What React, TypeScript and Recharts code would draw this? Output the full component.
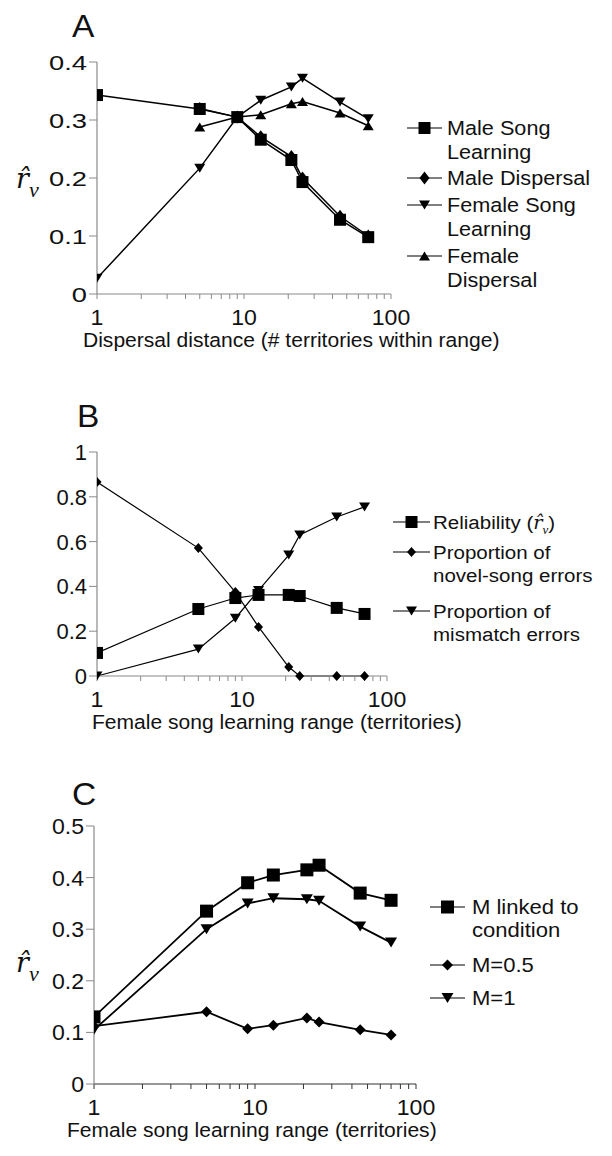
import React from 'react';
import { LineChart, Line, XAxis, YAxis, Legend } from 'recharts';

// ---------- DATA ----------
const xFull = [1, 5, 9, 13, 21, 25, 45, 70];
const xFrom5 = [5, 9, 13, 21, 25, 45, 70];

// Panel A
const aMaleSongLearning = [0.343, 0.319, 0.305, 0.266, 0.231, 0.193, 0.128, 0.098];
const aMaleDispersal = [0.32, 0.305, 0.271, 0.237, 0.2, 0.134, 0.1];
const aFemaleSongLearning = [0.027, 0.217, 0.305, 0.334, 0.357, 0.372, 0.331, 0.302];
const aFemaleDispersal = [0.288, 0.305, 0.309, 0.328, 0.332, 0.312, 0.29];

// Panel B
const bReliability = [0.103, 0.299, 0.348, 0.362, 0.362, 0.357, 0.304, 0.277];
const bNovelSongErrors = [0.866, 0.571, 0.375, 0.219, 0.04, 0, 0, 0];
const bMismatchErrors = [0, 0.12, 0.258, 0.382, 0.54, 0.63, 0.71, 0.755];

// Panel C
const cLinkedToCondition = [0.13, 0.335, 0.39, 0.405, 0.415, 0.424, 0.37, 0.356];
const cM05 = [0.112, 0.14, 0.107, 0.114, 0.128, 0.12, 0.105, 0.095];
const cM1 = [0.105, 0.3, 0.35, 0.36, 0.358, 0.355, 0.305, 0.274];

// Ticks
const xTicksAll = [1, 2, 3, 4, 5, 6, 7, 8, 9, 10, 20, 30, 40, 50, 60, 70, 80, 90, 100];
const xTickLabels = [1, 10, 100];
const aYTicks = [0, 0.1, 0.2, 0.3, 0.4];
const bYTicks = [0, 0.2, 0.4, 0.6, 0.8, 1];
const cYTicks = [0, 0.1, 0.2, 0.3, 0.4, 0.5];

// Texts
const aXTitle = 'Dispersal distance (# territories within range)';
const bXTitle = 'Female song learning range (territories)';
const cXTitle = 'Female song learning range (territories)';
const aLegendLines = [['Male Song', 'Learning'], ['Male Dispersal'], ['Female Song', 'Learning'], ['Female', 'Dispersal']];
const bLegendLines = [['Reliability ('], ['Proportion of', 'novel-song errors'], ['Proportion of', 'mismatch errors']];
const cLegendLines = [['M linked to', 'condition'], ['M=0.5'], ['M=1']];

// ---------- helpers ----------
const SANS = "'Liberation Sans', Arial, Helvetica, sans-serif";
const SERIF = "'DejaVu Serif', 'Liberation Serif', 'Times New Roman', serif";
const TIMES = "'Liberation Serif', 'Times New Roman', serif";

type Shape = 'square' | 'diamond' | 'tdown' | 'tup';
type Sizes = { square: number; diamondW: number; diamondH: number; triW: number; triH: number };

const pts = (xs: number[], ys: number[]) => xs.map((x, i) => ({ x, y: ys[i] }));

function markerEl(shape: Shape, cx: number, cy: number, s: Sizes, key?: any) {
  if (shape === 'square') {
    return <rect key={key} x={cx - s.square / 2} y={cy - s.square / 2} width={s.square} height={s.square} fill="#000" />;
  }
  if (shape === 'diamond') {
    const w = s.diamondW / 2, h = s.diamondH / 2;
    return <polygon key={key} points={`${cx},${cy - h} ${cx + w},${cy} ${cx},${cy + h} ${cx - w},${cy}`} fill="#000" />;
  }
  const w = s.triW / 2, h = s.triH / 2;
  if (shape === 'tdown') {
    return <polygon key={key} points={`${cx - w},${cy - h} ${cx + w},${cy - h} ${cx},${cy + h}`} fill="#000" />;
  }
  return <polygon key={key} points={`${cx - w},${cy + h} ${cx + w},${cy + h} ${cx},${cy - h}`} fill="#000" />;
}

const makeDot = (shape: Shape, s: Sizes) => (p: any) => {
  const { cx, cy, index } = p;
  if (cx == null || cy == null) return <g key={`d${index}`} />;
  return markerEl(shape, cx, cy, s, `d${index}`);
};

const fmtY = (v: number) => String(v);

const makeYTick = (fs: number, sx: number) => (p: any) => (
  <text
    transform={`translate(${p.x},${p.y}) scale(${sx},1)`}
    x={0}
    y={0}
    dy="0.36em"
    textAnchor="end"
    fontSize={fs}
    fontFamily={SANS}
    fill="#111"
  >
    {fmtY(p.payload.value)}
  </text>
);

const makeXTick = (fs: number, sx: number) => (p: any) =>
  xTickLabels.includes(p.payload.value) ? (
    <text
      transform={`translate(${p.x},${p.y + 26}) scale(${sx},1)`}
      x={0}
      y={0}
      textAnchor="middle"
      fontSize={fs}
      fontFamily={SANS}
      fill="#111"
    >
      {p.payload.value}
    </text>
  ) : (
    <g />
  );

type SeriesDef = { name: string; xs: number[]; ys: number[]; shape: Shape };

type PanelCfg = {
  top: number;
  height: number;
  margin: { top: number; right: number; bottom: number; left: number };
  yTicks: number[];
  yDomain: [number, number];
  series: SeriesDef[];
  legendLines: string[][];
  legendY: number[];
  legendGap: number;
  legendLineX: [number, number];
  legendTextX: number;
  legendFs: number;
  legendSx: number;
  sizes: Sizes;
  strokeW: number;
  yTickFs: number;
  yTickSx: number;
  xTickFs: number;
  xTickSx: number;
  xAxisColor: string;
  reliabilityItem?: boolean;
};

function PanelLegend({ cfg }: { cfg: PanelCfg }) {
  const mx = (cfg.legendLineX[0] + cfg.legendLineX[1]) / 2;
  const tx = cfg.legendTextX;
  return (
    <svg width={612} height={cfg.height} style={{ position: 'absolute', left: 0, top: 0, overflow: 'visible' }}>
      {cfg.series.map((s, i) => {
        const y = cfg.legendY[i] - cfg.top;
        const lines = cfg.legendLines[i];
        return (
          <g key={s.name}>
            <line x1={cfg.legendLineX[0]} x2={cfg.legendLineX[1]} y1={y} y2={y} stroke="#000" strokeWidth={1.2} />
            {markerEl(s.shape, mx, y, cfg.sizes)}
            {lines.map((t, k) => (
              <text
                key={k}
                transform={`translate(${tx},${y + 7 + k * cfg.legendGap}) scale(${cfg.legendSx},1)`}
                x={0}
                y={0}
                fontSize={cfg.legendFs}
                fontFamily={SANS}
                fill="#111"
              >
                {t}
                {cfg.reliabilityItem && i === 0 ? (
                  <>
                    <tspan fontFamily={SERIF} fontStyle="italic" fontSize={cfg.legendFs - 1}>{'r\u0302'}</tspan>
                    <tspan fontFamily={TIMES} fontStyle="italic" fontSize={cfg.legendFs - 7} dy={5}>v</tspan>
                    <tspan dy={-5}>)</tspan>
                  </>
                ) : null}
              </text>
            ))}
          </g>
        );
      })}
    </svg>
  );
}

function Panel({ cfg }: { cfg: PanelCfg }) {
  const yAxisW = 60;
  const xAxisH = 40;
  return (
    <div style={{ position: 'absolute', left: 0, top: cfg.top, width: 612, height: cfg.height }}>
      <LineChart
        width={612}
        height={cfg.height}
        margin={{ top: cfg.margin.top, right: cfg.margin.right, bottom: cfg.margin.bottom, left: cfg.margin.left - yAxisW }}
      >
        <XAxis
          dataKey="x"
          type="number"
          scale="log"
          domain={[1, 100]}
          ticks={xTicksAll}
          interval={0}
          allowDataOverflow
          height={xAxisH}
          tickSize={5}
          tickMargin={0}
          axisLine={{ stroke: cfg.xAxisColor, strokeWidth: 1.2 }}
          tickLine={{ stroke: cfg.xAxisColor, strokeWidth: 1 }}
          tick={makeXTick(cfg.xTickFs, cfg.xTickSx)}
        />
        <YAxis
          type="number"
          domain={cfg.yDomain}
          ticks={cfg.yTicks}
          interval={0}
          width={yAxisW}
          tickSize={8}
          tickMargin={2}
          axisLine={{ stroke: '#8a8a8a', strokeWidth: 1.2 }}
          tickLine={{ stroke: '#8a8a8a', strokeWidth: 1 }}
          tick={makeYTick(cfg.yTickFs, cfg.yTickSx)}
        />
        <Legend
          layout="horizontal"
          verticalAlign="middle"
          align="center"
          wrapperStyle={{ position: 'absolute', left: 0, top: 0, width: 612, height: cfg.height, pointerEvents: 'none' }}
          content={() => <PanelLegend cfg={cfg} />}
        />
        {cfg.series.map((s) => (
          <Line
            key={s.name}
            name={s.name}
            data={pts(s.xs, s.ys)}
            dataKey="y"
            stroke="#000"
            strokeWidth={cfg.strokeW}
            dot={makeDot(s.shape, cfg.sizes)}
            activeDot={false}
            isAnimationActive={false}
          />
        ))}
      </LineChart>
    </div>
  );
}

// ---------- layout ----------
const panelA: PanelCfg = {
  top: 0,
  height: 370,
  margin: { top: 62, right: 612 - 391, bottom: 370 - 294 - 40, left: 97 },
  yTicks: aYTicks,
  yDomain: [0, 0.4],
  series: [
    { name: 'Male Song Learning', xs: xFull, ys: aMaleSongLearning, shape: 'square' },
    { name: 'Male Dispersal', xs: xFrom5, ys: aMaleDispersal, shape: 'diamond' },
    { name: 'Female Song Learning', xs: xFull, ys: aFemaleSongLearning, shape: 'tdown' },
    { name: 'Female Dispersal', xs: xFrom5, ys: aFemaleDispersal, shape: 'tup' },
  ],
  legendLines: aLegendLines,
  legendY: [128, 178, 205, 256],
  legendGap: 24,
  legendLineX: [407, 442],
  legendTextX: 447,
  legendFs: 19.5,
  legendSx: 1.11,
  sizes: { square: 12, diamondW: 10, diamondH: 13, triW: 11, triH: 9 },
  strokeW: 1.5,
  yTickFs: 21,
  yTickSx: 1.3,
  xTickFs: 22,
  xTickSx: 1.05,
  xAxisColor: '#8a8a8a',
};

const panelB: PanelCfg = {
  top: 380,
  height: 380,
  margin: { top: 452 - 380, right: 612 - 387, bottom: 380 - 296 - 40, left: 97 },
  yTicks: bYTicks,
  yDomain: [0, 1],
  series: [
    { name: 'Reliability', xs: xFull, ys: bReliability, shape: 'square' },
    { name: 'Proportion of novel-song errors', xs: xFull, ys: bNovelSongErrors, shape: 'diamond' },
    { name: 'Proportion of mismatch errors', xs: xFull, ys: bMismatchErrors, shape: 'tdown' },
  ],
  legendLines: bLegendLines,
  legendY: [522, 552, 611],
  legendGap: 23,
  legendLineX: [393, 430],
  legendTextX: 433,
  legendFs: 19,
  legendSx: 1.08,
  sizes: { square: 12, diamondW: 9, diamondH: 10, triW: 11, triH: 9 },
  strokeW: 1.2,
  yTickFs: 22,
  yTickSx: 1.0,
  xTickFs: 22,
  xTickSx: 1.05,
  xAxisColor: '#8a8a8a',
  reliabilityItem: true,
};

const panelC: PanelCfg = {
  top: 770,
  height: 386,
  margin: { top: 826 - 770, right: 612 - 416, bottom: 386 - 314 - 40, left: 94 },
  yTicks: cYTicks,
  yDomain: [0, 0.5],
  series: [
    { name: 'M linked to condition', xs: xFull, ys: cLinkedToCondition, shape: 'square' },
    { name: 'M=0.5', xs: xFull, ys: cM05, shape: 'diamond' },
    { name: 'M=1', xs: xFull, ys: cM1, shape: 'tdown' },
  ],
  legendLines: cLegendLines,
  legendY: [907, 965, 998],
  legendGap: 23,
  legendLineX: [430, 465],
  legendTextX: 472,
  legendFs: 21,
  legendSx: 1.05,
  sizes: { square: 13, diamondW: 11, diamondH: 11, triW: 12, triH: 10 },
  strokeW: 1.8,
  yTickFs: 22,
  yTickSx: 1.05,
  xTickFs: 22,
  xTickSx: 1.05,
  xAxisColor: '#333',
};

const panelLabels = [
  { t: 'A', x: 72, y: 37 },
  { t: 'B', x: 77, y: 427 },
  { t: 'C', x: 72, y: 805 },
];
const axisTitles = [
  { t: aXTitle, x: 83, y: 347 },
  { t: bXTitle, x: 92, y: 729 },
  { t: cXTitle, x: 67, y: 1137 },
];
const rHatLabels = [
  { x: 16, y: 188 },
  { x: 16, y: 972 },
];

export default function App() {
  return (
    <div style={{ position: 'absolute', left: 0, top: 0, width: 612, height: 1156, background: '#fff', overflow: 'hidden' }}>
      <Panel cfg={panelA} />
      <Panel cfg={panelB} />
      <Panel cfg={panelC} />
      <svg width={612} height={1156} style={{ position: 'absolute', left: 0, top: 0, pointerEvents: 'none' }}>
        {panelLabels.map((p) => (
          <text key={p.t} transform={`translate(${p.x},${p.y}) scale(1.08,1)`} x={0} y={0} fontSize={31} fontFamily={SANS} fill="#111">{p.t}</text>
        ))}
        {axisTitles.map((a, i) => (
          <text key={i} transform={`translate(${a.x},${a.y}) scale(1.08,1)`} x={0} y={0} fontSize={19.5} fontFamily={SANS} fill="#111">{a.t}</text>
        ))}
        {rHatLabels.map((r, i) => (
          <text key={i} x={r.x} y={r.y} fontSize={27} fontFamily={SERIF} fontStyle="italic" fill="#111">
            {'r\u0302'}
            <tspan fontFamily={TIMES} fontSize={22} dy={9}>v</tspan>
          </text>
        ))}
      </svg>
    </div>
  );
}
